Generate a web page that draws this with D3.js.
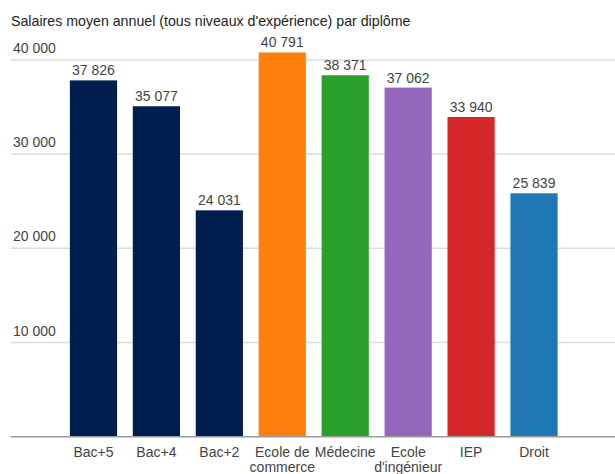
<!DOCTYPE html>
<html>
<head>
<meta charset="utf-8">
<script src="https://cdn.jsdelivr.net/npm/d3@7"></script>
<style>
  body { margin: 0; background: #fff; }
  text { font-family: "Liberation Sans", Arial, sans-serif; }
</style>
</head>
<body>
<script>
var categories = ["Bac+5", "Bac+4", "Bac+2", "Ecole de commerce", "Médecine", "Ecole d'ingénieur", "IEP", "Droit"];
var labelLines = [["Bac+5"], ["Bac+4"], ["Bac+2"], ["Ecole de", "commerce"], ["Médecine"], ["Ecole", "d'ingénieur"], ["IEP"], ["Droit"]];
var salaries = [37826, 35077, 24031, 40791, 38371, 37062, 33940, 25839];
var colors = ["#001f4f", "#001f4f", "#001f4f", "#ff7f0e", "#2ca02c", "#9467bd", "#d62728", "#1f77b4"];
var yTicks = [10000, 20000, 30000, 40000];

var width = 615, height = 474;

var svg = d3.select("body").append("svg")
    .attr("width", width)
    .attr("height", height);

var x = d3.scaleBand()
    .domain(categories)
    .range([62, 565.5])
    .paddingInner(0.25)
    .paddingOuter(0.125);

var y = d3.scaleLinear()
    .domain([0, 40000])
    .range([436.7, 59.9]);

var fmt = function(v) { return d3.format(",")(v).replace(/,/g, " "); };

// title
svg.append("text")
    .attr("x", 11)
    .attr("y", 26)
    .attr("font-size", 14.2)
    .attr("fill", "#222")
    .text("Salaires moyen annuel (tous niveaux d'expérience) par diplôme");

// gridlines + labels
var grid = svg.append("g");
grid.selectAll("line")
    .data(yTicks)
    .join("line")
    .attr("x1", 11)
    .attr("x2", width)
    .attr("y1", function(d) { return y(d); })
    .attr("y2", function(d) { return y(d); })
    .attr("stroke", "#dcdcdc")
    .attr("stroke-width", 1.5);

grid.selectAll("text")
    .data(yTicks)
    .join("text")
    .attr("x", 13)
    .attr("y", function(d) { return y(d) - 7; })
    .attr("font-size", 14)
    .attr("fill", "#444")
    .text(fmt);

// bars
svg.selectAll("rect.bar")
    .data(salaries)
    .join("rect")
    .attr("class", "bar")
    .attr("x", function(d, i) { return x(categories[i]); })
    .attr("width", x.bandwidth())
    .attr("y", function(d) { return y(d); })
    .attr("height", function(d) { return y(0) - y(d); })
    .attr("fill", function(d, i) { return colors[i]; });

// value labels
svg.selectAll("text.val")
    .data(salaries)
    .join("text")
    .attr("class", "val")
    .attr("x", function(d, i) { return x(categories[i]) + x.bandwidth() / 2; })
    .attr("y", function(d) { return y(d) - 5; })
    .attr("text-anchor", "middle")
    .attr("font-size", 14)
    .attr("fill", "#444")
    .text(fmt);

// baseline
svg.append("line")
    .attr("x1", 11)
    .attr("x2", width)
    .attr("y1", y(0))
    .attr("y2", y(0))
    .attr("stroke", "#999")
    .attr("stroke-width", 1.5);

// x labels
var xl = svg.selectAll("text.xl")
    .data(categories)
    .join("text")
    .attr("class", "xl")
    .attr("text-anchor", "middle")
    .attr("font-size", 14)
    .attr("fill", "#444")
    .attr("x", function(d) { return x(d) + x.bandwidth() / 2; })
    .attr("y", 456.5);

xl.selectAll("tspan")
    .data(function(d, i) { return labelLines[i]; })
    .join("tspan")
    .attr("x", function() { var c = d3.select(this.parentNode).datum(); return x(c) + x.bandwidth() / 2; })
    .attr("dy", function(d, j) { return j === 0 ? 0 : 15; })
    .text(function(d) { return d; });
</script>
</body>
</html>
